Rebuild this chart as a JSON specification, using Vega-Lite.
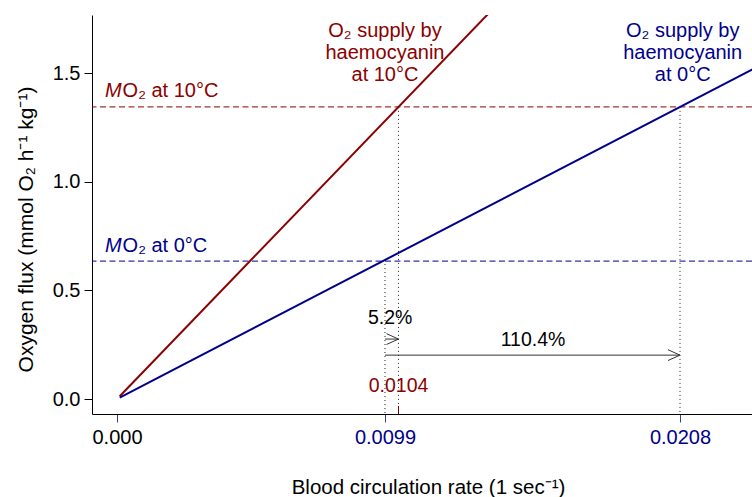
{
  "$schema": "https://vega.github.io/schema/vega-lite/v6.json",
  "width": 660,
  "height": 399,
  "autosize": {"type": "none"},
  "padding": {"left": 92, "top": 15, "right": 0, "bottom": 83},
  "datasets": {
    "supply": [
      {"temp": "10°C", "flow": 0.0001, "flux": 0.0129},
      {"temp": "10°C", "flow": 0.0145, "flux": 1.875},
      {"temp": "0°C", "flow": 0.0001, "flux": 0.0065},
      {"temp": "0°C", "flow": 0.0235, "flux": 1.5196}
    ],
    "mo2": [
      {"temp": "10°C", "flux": 1.345, "lx": -0.00044, "ly": 1.389, "rest": "O₂ at 10°C"},
      {"temp": "0°C", "flux": 0.635, "lx": -0.00044, "ly": 0.676, "rest": "O₂ at 0°C"}
    ],
    "drops": [
      {"flow": 0.0099, "flux": 0.64},
      {"flow": 0.0104, "flux": 1.345},
      {"flow": 0.0208, "flux": 1.345}
    ],
    "arrows": [
      {"label": "5.2%", "from": 0.0099, "to": 0.0104, "flux": 0.276, "lx": 0.01009, "ly": 0.3726},
      {"label": "110.4%", "from": 0.0099, "to": 0.0208, "flux": 0.202, "lx": 0.01537, "ly": 0.271}
    ],
    "supplyLabels": [
      {"temp": "10°C", "line": "O₂ supply by", "flow": 0.0099, "flux": 1.667},
      {"temp": "10°C", "line": "haemocyanin", "flow": 0.0099, "flux": 1.567},
      {"temp": "10°C", "line": "at 10°C", "flow": 0.0099, "flux": 1.463},
      {"temp": "0°C", "line": "O₂ supply by", "flow": 0.0209, "flux": 1.667},
      {"temp": "0°C", "line": "haemocyanin", "flow": 0.0209, "flux": 1.567},
      {"temp": "0°C", "line": "at 0°C", "flow": 0.0209, "flux": 1.463}
    ],
    "flowMark": [
      {"flow": 0.0104, "label": "0.0104", "ly": 0.06}
    ]
  },
  "encoding": {
    "x": {
      "type": "quantitative",
      "scale": {"domain": [-0.000924, 0.02346], "nice": false, "zero": false},
      "axis": {
        "title": "Blood circulation rate (1 sec⁻¹)",
        "values": [0, 0.0099, 0.0208],
        "labelExpr": "datum.value === 0 ? '0.000' : format(datum.value, '.4f')",
        "labelColor": {"condition": {"test": "datum.value === 0", "value": "black"}, "value": "#00008B"},
        "tickColor": "#3a3aa0",
        "labelFlush": false,
        "labelPadding": 5,
        "titleFontSize": 20.5,
        "titleX": 336,
        "titleY": 73,
        "titleBaseline": "middle"
      }
    },
    "y": {
      "type": "quantitative",
      "scale": {"domain": [-0.069, 1.768], "nice": false, "zero": false},
      "axis": {
        "title": "Oxygen flux (mmol O₂   h⁻¹   kg⁻¹)",
        "values": [0, 0.5, 1, 1.5],
        "format": ".1f",
        "labelPadding": 4,
        "titleFontSize": 21,
        "titleX": -66,
        "titleY": 214,
        "titleAngle": -90,
        "titleAlign": "center",
        "titleBaseline": "middle"
      }
    },
    "color": {
      "field": "temp",
      "type": "nominal",
      "scale": {"domain": ["10°C", "0°C"], "range": ["#8B0000", "#00008B"]},
      "legend": null
    }
  },
  "layer": [
    {
      "data": {"name": "mo2"},
      "mark": {"type": "rule", "strokeDash": [6, 3.5], "strokeWidth": 1.2, "opacity": 0.8},
      "encoding": {"y": {"field": "flux"}}
    },
    {
      "data": {"name": "drops"},
      "mark": {"type": "rule", "strokeDash": [1, 3], "strokeWidth": 1, "color": "#222"},
      "encoding": {
        "x": {"field": "flow"},
        "y": {"field": "flux"},
        "y2": {"datum": -0.069},
        "color": {"value": "#222"}
      }
    },
    {
      "data": {"name": "flowMark"},
      "mark": {"type": "rule", "strokeWidth": 1, "color": "#8B0000"},
      "encoding": {
        "x": {"field": "flow"},
        "y": {"datum": -0.069},
        "y2": {"datum": -0.032},
        "color": {"value": "#8B0000"}
      }
    },
    {
      "data": {"name": "supply"},
      "mark": {"type": "line", "strokeWidth": 2, "clip": true},
      "encoding": {
        "x": {"field": "flow"},
        "y": {"field": "flux"},
        "detail": {"field": "temp"}
      }
    },
    {
      "data": {"name": "arrows"},
      "mark": {"type": "rule", "strokeWidth": 1, "color": "#333"},
      "encoding": {
        "x": {"field": "from"},
        "x2": {"field": "to"},
        "y": {"field": "flux"},
        "color": {"value": "#333"}
      }
    },
    {
      "data": {"name": "arrows"},
      "mark": {"type": "point", "shape": "M-1,-0.45L0,0L-1,0.45", "filled": false, "size": 576, "strokeWidth": 1, "opacity": 1},
      "encoding": {
        "x": {"field": "to"},
        "y": {"field": "flux"},
        "color": {"value": "#333"}
      }
    },
    {
      "data": {"name": "arrows"},
      "mark": {"type": "text", "fontSize": 19.5, "align": "center", "baseline": "middle"},
      "encoding": {
        "x": {"field": "lx"},
        "y": {"field": "ly"},
        "text": {"field": "label"},
        "color": {"value": "black"}
      }
    },
    {
      "data": {"name": "flowMark"},
      "mark": {"type": "text", "fontSize": 19.5, "align": "center", "baseline": "middle"},
      "encoding": {
        "x": {"field": "flow"},
        "y": {"field": "ly"},
        "text": {"field": "label"},
        "color": {"value": "#8B0000"}
      }
    },
    {
      "data": {"name": "supplyLabels"},
      "mark": {"type": "text", "fontSize": 20, "align": "center", "baseline": "alphabetic"},
      "encoding": {
        "x": {"field": "flow"},
        "y": {"field": "flux"},
        "text": {"field": "line"}
      }
    },
    {
      "data": {"name": "mo2"},
      "mark": {"type": "text", "fontSize": 20, "fontStyle": "italic", "align": "left", "baseline": "alphabetic"},
      "encoding": {
        "x": {"field": "lx"},
        "y": {"field": "ly"},
        "text": {"value": "M"}
      }
    },
    {
      "data": {"name": "mo2"},
      "mark": {"type": "text", "fontSize": 20, "align": "left", "baseline": "alphabetic", "dx": 17.5},
      "encoding": {
        "x": {"field": "lx"},
        "y": {"field": "ly"},
        "text": {"field": "rest"}
      }
    }
  ],
  "config": {
    "view": {"stroke": null},
    "font": "Liberation Sans",
    "text": {"font": "Liberation Sans"},
    "axis": {
      "grid": false,
      "domainColor": "black",
      "domainWidth": 1,
      "tickColor": "black",
      "tickWidth": 1,
      "tickSize": 8,
      "labelColor": "black",
      "titleColor": "black",
      "labelFont": "Liberation Sans",
      "titleFont": "Liberation Sans",
      "labelFontSize": 20,
      "titleFontSize": 20.5,
      "titleFontWeight": "normal"
    }
  }
}
